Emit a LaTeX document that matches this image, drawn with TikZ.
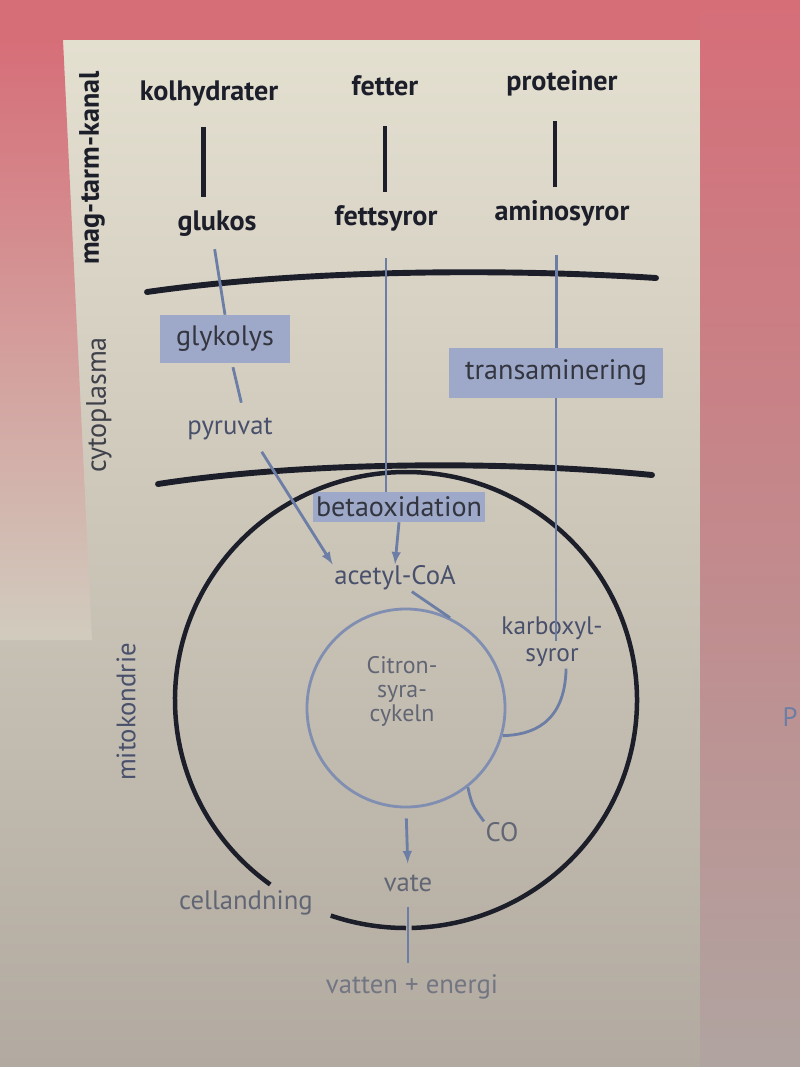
\documentclass[tikz,border=0pt]{standalone}
\usepackage{fontspec}
\setmainfont{PT Sans}
\usetikzlibrary{arrows,calc}
\tikzset{>=latex}
\definecolor{ink}{RGB}{28,30,42}
\definecolor{flowblue}{RGB}{108,126,165}
\definecolor{ringblue}{RGB}{128,142,178}
\definecolor{boxfill}{RGB}{158,168,200}
\definecolor{softtext}{RGB}{72,80,108}
\definecolor{greytext}{RGB}{98,102,116}
\definecolor{pinkbg}{RGB}{214,110,120}
\definecolor{greybg}{RGB}{176,164,160}
\definecolor{panel}{RGB}{230,226,210}
\definecolor{paneldark}{RGB}{178,170,160}
\tikzset{
  food/.style={font=\bfseries\fontsize{20}{24}\selectfont, text=ink, text height=14pt, text depth=4pt, inner sep=1pt},
  stagebox/.style={fill=boxfill, text=ink!90, font=\fontsize{20}{24}\selectfont, inner sep=0pt},
  compound/.style={font=\fontsize{19}{23}\selectfont, text=softtext, text height=13pt, text depth=4pt, inner sep=1pt, align=center},
  side/.style={rotate=90, font=\fontsize{20}{24}\selectfont, inner sep=0pt},
  feed/.style={draw=ink, line width=3.4pt},
  pathway/.style={draw=flowblue, line width=2pt},
  membrane/.style={draw=ink, line width=4.2pt, line cap=round},
  wall/.style={draw=ink, line width=3.2pt},
}
\begin{document}
\begin{tikzpicture}[x=0.025cm,y=-0.025cm]
  \useasboundingbox (0,0) rectangle (800,1067);

  % Background
  \shade[top color=panel, middle color=panel!75!paneldark, bottom color=paneldark] (0,0) rectangle (800,1067);
  \fill[pinkbg] (0,0) rectangle (800,40);
  \shade[top color=pinkbg, middle color=pinkbg!75!panel, bottom color=panel!60!paneldark] (0,40) -- (63,40) -- (92,640) -- (0,640) -- cycle;
  \shade[top color=pinkbg, middle color=pinkbg!85!greybg, bottom color=greybg] (700,0) rectangle (800,1067);

  % Side labels
  \node[side, font=\bfseries\fontsize{20}{24}\selectfont, text=ink] (gut) at (92,168) {mag-tarm-kanal};
  \node[side, text=ink!85] (cyto) at (99,405) {cytoplasma};
  \node[side, font=\fontsize{19}{23}\selectfont, text=softtext] (mito) at (126,712) {mitokondrie};

  % Membranes
  \draw[membrane] (147,292) .. controls (300,270) and (500,268) .. (656,278);
  \draw[membrane] (158,484) .. controls (300,462) and (500,460) .. (652,475);

  % Food and building blocks
  \node[food] (kolh) at (209,93) {kolhydrater};
  \node[food] (fett) at (385,88) {fetter};
  \node[food] (prot) at (562,83) {proteiner};
  \node[food] (gluk) at (217,223) {glukos};
  \node[food] (fsyr) at (386,218) {fettsyror};
  \node[food] (amin) at (562,213) {aminosyror};

  \draw[feed, shorten <=0.5cm, shorten >=0.3cm] ([xshift=-4pt]kolh.south) -- ([xshift=-4pt]kolh.south |- gluk.north);
  \draw[feed, shorten <=0.6cm, shorten >=0.3cm] (fett.south) -- (fett.south |- fsyr.north);
  \draw[feed, shorten <=0.6cm, shorten >=0.3cm] ([xshift=-5pt]prot.south) -- ([xshift=-5pt]prot.south |- amin.north);

  % Cytoplasm
  \node[stagebox, minimum width=3.25cm, minimum height=1.2cm] (glyk) at (225,339) {glykolys};
  \node[stagebox, minimum width=5.35cm, minimum height=1.25cm] (trans) at (556,373) {transaminering};
  \node[compound] (pyru) at (230,428) {pyruvat};

  \draw[pathway, shorten <=0.3cm] ([xshift=-3pt]gluk.south) -- (glyk.north);
  \draw[pathway, shorten <=0.1cm, shorten >=0.3cm] ([xshift=5pt]glyk.south) -- ([xshift=10pt]pyru.north);
  \draw[pathway, shorten <=0.7cm] ([xshift=-4pt]amin.south) -- ([xshift=-4pt]amin.south |- trans.north);

  % Mitochondrion
  \node[stagebox, minimum width=4.3cm, minimum height=0.75cm] (beta) at (399,507) {betaoxidation};
  \draw[wall] (406,700) ++(126:231 and 228) arc[start angle=126, end angle=448.6, x radius=231, y radius=228];
  \draw[wall] (406,700) ++(90:231 and 228) arc[start angle=90, end angle=109, x radius=231, y radius=228];

  \node[compound] (acet) at (395,578) {acetyl-CoA};
  \node[compound, font=\fontsize{18}{19}\selectfont] (karb) at (552,655) {karboxyl-\\syror};
  \node[draw=ringblue, line width=2pt, circle, minimum size=4.95cm, inner sep=0pt] (cit) at (406,708) {};
  \node[compound, text=greytext, font=\fontsize{17}{17}\selectfont] (citlbl) at (402,715) {Citron-\\syra-\\cykeln};
  \node[compound, text=greytext] (co) at (502,835) {CO};
  \node[compound, text=greytext] (vate) at (408,885) {vate};
  \node[compound, text=greytext] (cell) at (246,903) {cellandning};
  \node[compound, text=greytext!90] (vatt) at (412,987) {vatten + energi};

  \draw[pathway, shorten <=0.65cm] (fsyr.south) -- (fsyr.south |- beta.north);
  \draw[pathway, ->, shorten <=0.3cm] ([xshift=18pt]pyru.south) -- (acet.north west);
  \draw[pathway, ->] (beta.south) -- (acet.north);
  \draw[pathway] (trans.south) -- (trans.south |- karb.north);
  \draw[pathway] ([xshift=10pt]karb.south) .. controls (565,725) and (530,735) .. (cit.-16);
  \draw[pathway] ([xshift=12pt]acet.south) -- (cit.64);
  \draw[pathway] (cit.-52) .. controls (472,805) .. (co.north west);
  \draw[pathway, ->, shorten <=0.25cm, shorten >=0.2cm] (cit.south) -- (vate.north);
  \draw[pathway, shorten <=0.2cm, shorten >=0.25cm] (vate.south) -- (vate.south |- vatt.north);

  % Edge of the next page
  \node[compound, anchor=west, text=flowblue] (pnext) at (781,720) {P};
\end{tikzpicture}
\end{document}
